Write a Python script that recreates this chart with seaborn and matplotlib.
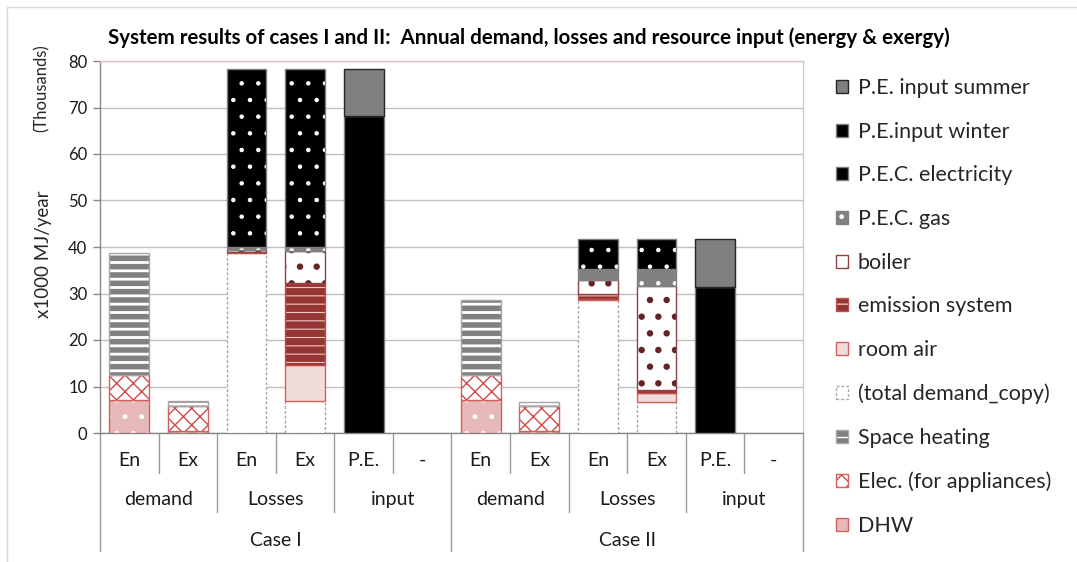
import numpy as np
import matplotlib
matplotlib.use("Agg")
import matplotlib.pyplot as plt
from matplotlib.transforms import blended_transform_factory
import seaborn as sns

# x-axis structure (three levels)
cases = ["Case I", "Case II"]
groups = ["demand", "Losses", "input"]
subcats = ["En", "Ex", "En", "Ex", "P.E.", "-"]

# values in thousand MJ/year, one per column (Case I then Case II), stacked bottom -> top
dhw = [7.0, 0.5, 0, 0, 0, 0, 7.0, 0.5, 0, 0, 0, 0]
elec = [5.5, 5.4, 0, 0, 0, 0, 5.5, 5.3, 0, 0, 0, 0]
space_heating = [26.2, 1.0, 0, 0, 0, 0, 16.0, 0.9, 0, 0, 0, 0]
total_demand_copy = [0, 0, 38.7, 6.9, 0, 0, 0, 0, 28.5, 6.6, 0, 0]
room_air = [0, 0, 0.0, 7.7, 0, 0, 0, 0, 0.3, 2.1, 0, 0]
emission_system = [0, 0, 0.3, 17.6, 0, 0, 0, 0, 1.2, 0.5, 0, 0]
boiler = [0, 0, 0.3, 7.0, 0, 0, 0, 0, 2.9, 22.5, 0, 0]
pec_gas = [0, 0, 0.8, 0.9, 0, 0, 0, 0, 2.3, 3.5, 0, 0]
pec_electricity = [0, 0, 38.2, 38.2, 0, 0, 0, 0, 6.5, 6.5, 0, 0]
pe_input_winter = [0, 0, 0, 0, 68.2, 0, 0, 0, 0, 0, 31.3, 0]
pe_input_summer = [0, 0, 0, 0, 10.1, 0, 0, 0, 0, 0, 10.4, 0]

series = [
    ("DHW", dhw),
    ("Elec. (for appliances)", elec),
    ("Space heating", space_heating),
    ("(total demand_copy)", total_demand_copy),
    ("room air", room_air),
    ("emission system", emission_system),
    ("boiler", boiler),
    ("P.E.C. gas", pec_gas),
    ("P.E.C. electricity", pec_electricity),
    ("P.E.input winter", pe_input_winter),
    ("P.E. input summer", pe_input_summer),
]

# face, edge, line style, hatch, hatch colour, hatch width
styles = {
    "DHW": dict(face="#e6b9b8", edge="#d0625e", ls="-", hatch=".", hc="white", hlw=1.0),
    "Elec. (for appliances)": dict(face="white", edge="#d0625e", ls="-", hatch="xx", hc="#cf4a46", hlw=1.0),
    "Space heating": dict(face="#808080", edge="#a6a6a6", ls="-", hatch="--", hc="white", hlw=2.0),
    "(total demand_copy)": dict(face="white", edge="#a6a6a6", ls=(0, (2, 1.5)), hatch=None),
    "room air": dict(face="#f2dcdb", edge="#d0625e", ls="-", hatch=None),
    "emission system": dict(face="#963634", edge="#c0504d", ls="-", hatch="--", hc="#f2c4c2", hlw=0.8),
    "boiler": dict(face="white", edge="#8c4543", ls="-", hatch=".", hc="#632523", hlw=2.2),
    "P.E.C. gas": dict(face="#808080", edge="#808080", ls="-", hatch=".", hc="white", hlw=0.8),
    "P.E.C. electricity": dict(face="black", edge="#7f7f7f", ls="-", hatch=".", hc="white", hlw=0.8),
    "P.E.input winter": dict(face="black", edge="#7f7f7f", ls="-", hatch=None),
    "P.E. input summer": dict(face="#808080", edge="#262626", ls="-", hatch=None),
}

sns.set_theme(style="white")
plt.rcParams["font.family"] = ["Lato", "DejaVu Sans"]

W, H = 1077, 562
fig = plt.figure(figsize=(W / 100, H / 100), dpi=100)
ax = fig.add_axes([100 / W, 1 - 433 / H, 703 / W, 372 / H])

n = len(subcats) * len(cases)
x = np.arange(n)
width = 0.68
bottom = np.zeros(n)
handles, labels = [], []

for i, (name, vals) in enumerate(series):
    st = styles[name]
    vals = np.asarray(vals, dtype=float)
    m = vals > 0
    z = 3 + i * 0.01
    ax.bar(x[m], vals[m], width, bottom=bottom[m], color=st["face"], linewidth=0, zorder=z)
    h_parts = [plt.Rectangle((0, 0), 1, 1, facecolor=st["face"], linewidth=0)]
    if st["hatch"]:
        hb = ax.bar(x[m], vals[m], width, bottom=bottom[m], color="none",
                    edgecolor=st["hc"], linewidth=0, hatch=st["hatch"], zorder=z + 0.002)
        hp = plt.Rectangle((0, 0), 1, 1, facecolor="none", edgecolor=st["hc"],
                           linewidth=0, hatch=st["hatch"])
        for p in list(hb) + [hp]:
            if hasattr(p, "set_hatch_linewidth"):
                p.set_hatch_linewidth(st["hlw"])
        h_parts.append(hp)
    ax.bar(x[m], vals[m], width, bottom=bottom[m], color="none", edgecolor=st["edge"],
           linewidth=1.0, linestyle=st["ls"], zorder=z + 0.004)
    h_parts.append(plt.Rectangle((0, 0), 1, 1, facecolor="none", edgecolor=st["edge"],
                                 linewidth=1.0, linestyle=st["ls"]))
    handles.append(tuple(h_parts))
    labels.append(name)
    bottom += vals

ax.set_xlim(-0.5, n - 0.5)
ax.set_ylim(0, 80)
ax.set_yticks(range(0, 81, 10))
ax.set_xticks([])
ax.yaxis.grid(True, color="#bfbfbf", linewidth=1.0, zorder=0)
ax.set_axisbelow(True)
ax.tick_params(axis="y", left=True, length=5, width=1, color="#868686",
               labelsize=12, labelcolor="#1a1a1a", pad=4)
for s in ["top", "right"]:
    ax.spines[s].set_color("#e3c3c1")
    ax.spines[s].set_linewidth(1.0)
for s in ["left", "bottom"]:
    ax.spines[s].set_color("#868686")
    ax.spines[s].set_linewidth(1.0)

# multi-level category axis
tr = blended_transform_factory(ax.transData, ax.transAxes)
lvl1_y, lvl2_y, lvl3_y = -0.073, -0.18, -0.288
sep1, sep2, sep3 = -0.108, -0.213, -0.318
for i, lab in enumerate(subcats * len(cases)):
    ax.text(i, lvl1_y, lab, transform=tr, ha="center", va="center", fontsize=14, color="#1a1a1a")
per_group = 2
gi = 0
for c in range(len(cases)):
    for g, gname in enumerate(groups):
        ax.text(gi * per_group + 0.5, lvl2_y, gname, transform=tr, ha="center", va="center",
                fontsize=14, color="#1a1a1a")
        gi += 1
per_case = len(subcats)
for c, cname in enumerate(cases):
    ax.text(c * per_case + (per_case - 1) / 2, lvl3_y, cname, transform=tr, ha="center",
            va="center", fontsize=14, color="#1a1a1a")
for b in np.arange(-0.5, n, 1.0):
    k = int(b + 0.5)
    if k % per_case == 0:
        y1 = sep3
    elif k % per_group == 0:
        y1 = sep2
    else:
        y1 = sep1
    ax.plot([b, b], [0, y1], transform=tr, color="#9a9a9a", linewidth=1.0, clip_on=False)

ax.set_title("System results of cases I and II:  Annual demand, losses and resource input (energy & exergy)",
             fontsize=14.8, fontweight="bold", color="black", x=0.61, pad=12)
fig.text(43 / W, 1 - 254 / H, "x1000 MJ/year", rotation=90, ha="center", va="center", fontsize=13.5)
fig.text(42 / W, 1 - 88 / H, "(Thousands)", rotation=90, ha="center", va="center", fontsize=12)

fig.legend(handles[::-1], labels[::-1], loc="upper left", bbox_to_anchor=(836 / W, 1 - 78 / H),
           frameon=False, fontsize=15.5, handlelength=0.55, handleheight=0.55, labelspacing=1.1,
           handletextpad=0.45, borderaxespad=0, borderpad=0)

# chart area border
fig.add_artist(plt.Rectangle((7 / W, -0.1), 1.2, 1.1 - 7 / H, transform=fig.transFigure,
                             facecolor="none", edgecolor="#d9d9d9", linewidth=1.0))

fig.savefig("out.png", dpi=100)
